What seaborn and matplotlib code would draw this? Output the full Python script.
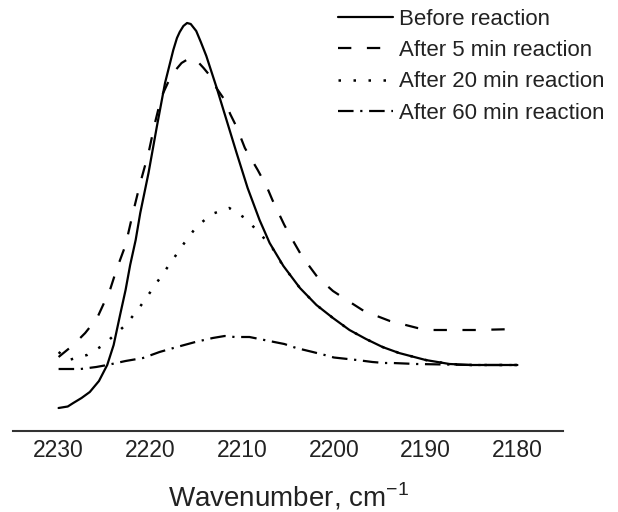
import numpy as np
import pandas as pd
import matplotlib
matplotlib.use("Agg")
import matplotlib.pyplot as plt
import seaborn as sns

# ---------------- data ----------------
labels = ["Before reaction", "After 5 min reaction",
          "After 20 min reaction", "After 60 min reaction"]

x_before = [2230.0, 2229.0, 2228.4, 2227.5, 2226.6, 2225.6, 2224.7, 2224.0,
            2223.3, 2222.7, 2222.2, 2221.6, 2221.1, 2220.2, 2219.3, 2218.4,
            2217.5, 2217.1, 2216.8, 2216.4, 2216.0, 2215.6, 2215.0, 2214.5,
            2213.9, 2212.8, 2211.7, 2210.6, 2209.4, 2208.1, 2207.0, 2205.5,
            2203.7, 2201.9, 2200.1, 2198.3, 2196.5, 2194.7, 2192.9, 2190.0,
            2187.4, 2185.0, 2180.0]
y_before = [0.22, 0.235, 0.27, 0.32, 0.38, 0.49, 0.65, 0.85,
            1.15, 1.40, 1.65, 1.90, 2.17, 2.57, 3.03, 3.47,
            3.80, 3.92, 3.98, 4.04, 4.07, 4.06, 3.99, 3.88,
            3.74, 3.43, 3.10, 2.77, 2.42, 2.10, 1.87, 1.64,
            1.42, 1.25, 1.12, 1.00, 0.91, 0.83, 0.77, 0.70,
            0.66, 0.65, 0.65]

x_5min = [2230.0, 2228.4, 2227.1, 2225.8, 2224.4, 2223.7, 2222.7, 2221.9,
          2221.1, 2220.2, 2219.5, 2218.8, 2217.7, 2216.6, 2215.7, 2215.0,
          2214.2, 2213.3, 2212.8, 2211.9, 2211.3, 2210.6, 2209.7, 2208.3,
          2207.3, 2206.7, 2205.4, 2204.5, 2203.5, 2201.8, 2200.1, 2198.6,
          2196.9, 2195.6, 2193.9, 2192.6, 2190.9, 2189.4, 2187.6, 2184.5,
          2180.0]
y_5min = [0.73, 0.85, 0.97, 1.12, 1.40, 1.60, 1.85, 2.17,
          2.47, 2.77, 3.07, 3.33, 3.55, 3.67, 3.72, 3.70,
          3.62, 3.52, 3.42, 3.30, 3.16, 3.03, 2.82, 2.60,
          2.43, 2.30, 2.05, 1.90, 1.74, 1.53, 1.39, 1.30,
          1.20, 1.15, 1.09, 1.06, 1.02, 1.00, 1.00, 1.00,
          1.01]

x_20min = [2230.0, 2228.9, 2226.9, 2225.1, 2224.4, 2222.7, 2221.3, 2220.0,
           2218.8, 2217.5, 2216.3, 2215.0, 2213.3, 2211.4, 2209.7, 2208.1,
           2206.7, 2205.6, 2203.7, 2201.9, 2200.1, 2198.3, 2196.5, 2194.7,
           2192.9, 2190.0, 2187.4, 2185.0, 2182.5, 2180.0]
y_20min = [0.78, 0.70, 0.75, 0.85, 0.91, 1.05, 1.21, 1.38,
           1.54, 1.71, 1.87, 2.03, 2.16, 2.22, 2.12, 1.97,
           1.82, 1.65, 1.42, 1.25, 1.12, 1.00, 0.91, 0.83,
           0.77, 0.70, 0.66, 0.65, 0.65, 0.65]

x_60min = [2230.0, 2227.6, 2225.9, 2224.7, 2222.7, 2220.8, 2219.0, 2217.1,
           2215.1, 2213.2, 2211.9, 2210.8, 2209.2, 2206.5, 2205.4, 2204.1,
           2202.3, 2201.0, 2200.0, 2197.5, 2195.8, 2194.5, 2193.6, 2191.0,
           2185.0, 2180.0]
y_60min = [0.61, 0.61, 0.63, 0.65, 0.69, 0.72, 0.78, 0.83,
           0.88, 0.92, 0.94, 0.93, 0.93, 0.88, 0.86, 0.82,
           0.78, 0.75, 0.725, 0.70, 0.68, 0.67, 0.67, 0.66,
           0.65, 0.65]

xticks = [2230, 2220, 2210, 2200, 2190, 2180]

series = [(x_before, y_before), (x_5min, y_5min),
          (x_20min, y_20min), (x_60min, y_60min)]
styles = ["-", (0, (6, 7)), (0, (1, 5)), (0, (7, 3, 1, 3))]
widths = [1.6, 1.6, 1.8, 1.6]

# ---------------- figure ----------------
sns.set_style("white")
plt.rcParams["font.family"] = ["Liberation Sans", "DejaVu Sans"]
plt.rcParams["mathtext.fontset"] = "custom"
plt.rcParams["mathtext.rm"] = "Liberation Sans"

W, H = 618, 512
fig = plt.figure(figsize=(W / 100, H / 100), dpi=100)
ax = fig.add_axes([12.7 / W, (H - 430.7) / H, (563.3 - 12.7) / W, 430.7 / H])

for (xs, ys), lab, ls, lw in zip(series, labels, styles, widths):
    df = pd.DataFrame({"wavenumber": xs, "intensity": ys})
    sns.lineplot(data=df, x="wavenumber", y="intensity", ax=ax,
                 color="black", linewidth=lw, linestyle=ls,
                 sort=False, estimator=None, label=lab)

ax.set_xlim(2235, 2175)
ax.set_ylim(-0.007, 4.30)

for s in ["left", "top", "right"]:
    ax.spines[s].set_visible(False)
ax.spines["bottom"].set_color("#333333")
ax.spines["bottom"].set_linewidth(1.5)

ax.set_xticks(xticks)
ax.set_xticklabels([str(t) for t in xticks])
ax.set_xticks([2235, 2225, 2215, 2205, 2195, 2185, 2175], minor=True)
ax.tick_params(axis="x", which="major", direction="in", length=6, width=1.2,
               color="#333333", pad=6, labelsize=16.5, labelcolor="#222222")
ax.tick_params(axis="x", which="minor", direction="in", length=3, width=1.2,
               color="#333333")
ax.set_yticks([])
ax.set_ylabel("")

ax.set_xlabel(r"Wavenumber, cm$^{\mathregular{-1}}$", fontsize=20,
              color="#222222")
ax.xaxis.label.set_verticalalignment("baseline")
ax.xaxis.set_label_coords(288 / W, 1 - 506.5 / H, transform=fig.transFigure)

fs = 16
fpx = fs * 100 / 72
leg = ax.legend(loc="upper left", bbox_to_anchor=(338 / W, 1 - 9.0 / H),
                bbox_transform=fig.transFigure, frameon=False, fontsize=fs,
                handlelength=55 / fpx, handletextpad=6 / fpx,
                labelspacing=0.46, borderpad=0, borderaxespad=0)
for t in leg.get_texts():
    t.set_color("#222222")

fig.savefig("out.png", dpi=100)
